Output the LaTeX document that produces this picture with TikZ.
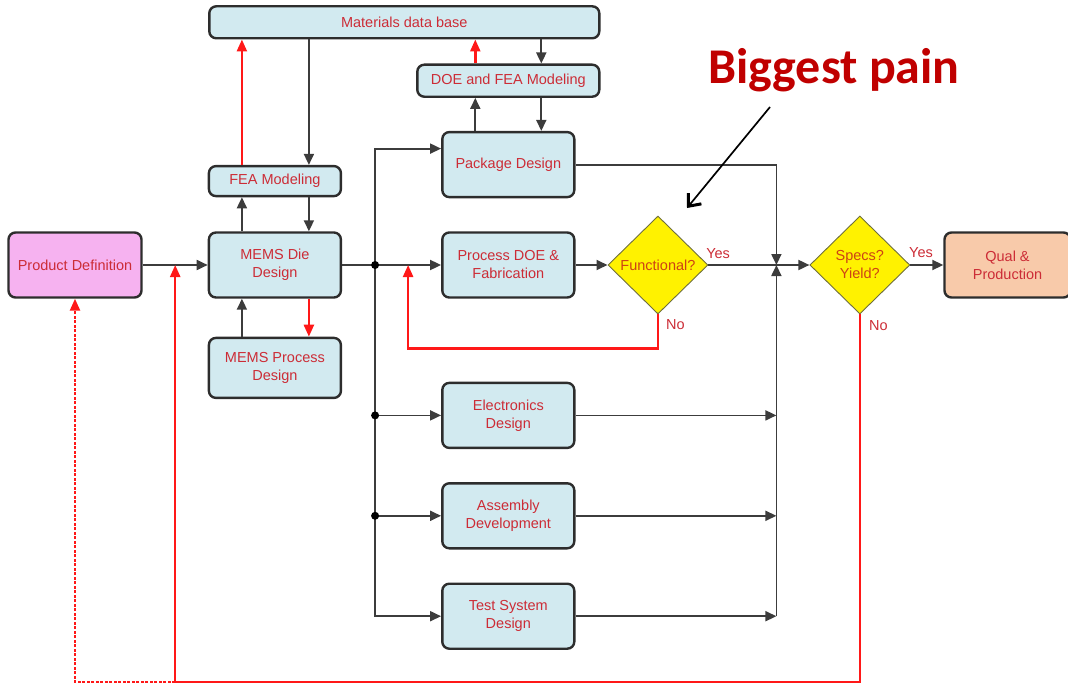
\documentclass[tikz,border=0pt]{standalone}
\usepackage{fontspec}
\setmainfont{Liberation Sans}
\setsansfont{Liberation Sans}
\newfontfamily\painfont{Carlito}
\usepackage{xcolor}
\usepackage{tikz}
\usetikzlibrary{shapes.geometric, arrows.meta, positioning, calc}
\definecolor{BoxCyan}{RGB}{210, 234, 240}
\definecolor{BoxPink}{RGB}{246, 178, 240}
\definecolor{BoxPeach}{RGB}{248, 202, 170}
\definecolor{BoxEdge}{RGB}{45, 45, 45}
\definecolor{LabelRed}{RGB}{204, 44, 54}
\definecolor{QueryRed}{RGB}{205, 66, 20}
\definecolor{QueryEdge}{RGB}{110, 110, 60}
\definecolor{LoopRed}{RGB}{255, 24, 24}
\definecolor{PainRed}{RGB}{192, 0, 0}
\definecolor{WireGray}{RGB}{60, 60, 60}

\begin{document}
\begin{tikzpicture}[
    x=1pt, y=-1pt,
    font=\fontsize{14.5}{18}\selectfont,
    block/.style={
        rectangle, draw=BoxEdge, line width=2.4pt, fill=BoxCyan,
        text=LabelRed, align=center, rounded corners=7pt,
        minimum width=132pt, minimum height=65pt, inner sep=2pt
    },
    slim/.style={block, minimum height=31pt},
    decision/.style={
        diamond, aspect=1, draw=QueryEdge, line width=0.9pt, fill=yellow,
        text=QueryRed, align=center, inner sep=0pt,
        minimum width=100pt, minimum height=98pt
    },
    arrow/.style={-{Triangle[length=11pt,width=10pt]}, line width=1.8pt, color=WireGray},
    redarrow/.style={-{Triangle[length=12pt,width=10pt]}, line width=2.4pt, color=LoopRed},
    painarrow/.style={-{Straight Barb[length=10pt,width=17pt,line width=3pt]}, line width=1.7pt, color=black},
    tag/.style={text=LabelRed, inner sep=2pt}
]
\useasboundingbox (0,0) rectangle (1068,685);

% Nodes
\node[block, fill=BoxPink, minimum width=133pt] (prod) at (75,265) {Product Definition};
\node[block, right=65pt of prod] (die) {MEMS Die\\Design};
\node[slim, above=34pt of die, minimum height=30pt] (fea) {FEA Modeling};
\node[block, below=38pt of die, minimum height=60pt] (proc) {MEMS Process\\Design};

\node[block, right=99pt of die] (pdoe) {Process DOE \&\\Fabrication};
\node[block, above=33pt of pdoe] (pkg) {Package Design};
\node[slim, above=33pt of pkg, minimum width=182pt, minimum height=32pt] (doe) {DOE and FEA Modeling};
\node[slim, above=24pt of doe.north east, anchor=south east, minimum width=390pt, minimum height=32pt] (mat) {Materials data base};
\node[block, below=83pt of pdoe] (elec) {Electronics\\Design};
\node[block, below=33pt of elec] (asm) {Assembly\\Development};
\node[block, below=33pt of asm] (test) {Test System\\Design};

\node[decision, right=32pt of pdoe] (func) {Functional?};
\node[decision, right=101pt of func] (specs) {Specs?\\Yield?};
\node[block, fill=BoxPeach, right=33pt of specs, minimum width=126pt] (qual) {Qual \&\\Production};

\node[font=\painfont\bfseries\fontsize{50}{52}\selectfont, text=PainRed, anchor=base] (pain) at (834,83) {Biggest pain};

% Helper points
\coordinate (colL) at ([xshift=-33pt]die.north);
\coordinate (colR) at ([xshift=34pt]die.north);
\coordinate (padL) at ([xshift=-33pt]pkg.north);
\coordinate (padR) at ([xshift=33pt]pkg.north);
\coordinate (bus) at ($(die.east)+(33,0)$);
\coordinate (pkgIn) at ([yshift=16pt]pkg.west);
\coordinate (redo) at ($(pdoe.west)+(-33,0)$);
\coordinate (merge) at ($(specs.west)+(-33,0)$);
\coordinate (retA) at ($(prod.east)!0.5!(die.west)$);
\coordinate (floor) at (0,682);
\coordinate (painTip) at (687,208);

% Paths
\draw[arrow] (prod) -- (die);
\draw[arrow] (colL) -- (colL |- fea.south);
\draw[arrow] (colR |- fea.south) -- (colR);
\draw[redarrow] (colL |- fea.north) -- (colL |- mat.south);
\draw[arrow] (colR |- mat.south) -- (colR |- fea.north);
\draw[arrow] (colL |- proc.north) -- (colL |- die.south);
\draw[redarrow] (colR |- die.south) -- (colR |- proc.north);

\draw[arrow] (padL) -- (padL |- doe.south);
\draw[arrow] (padR |- doe.south) -- (padR);
\draw[redarrow] (padL |- doe.north) -- (padL |- mat.south);
\draw[arrow] (padR |- mat.south) -- (padR |- doe.north);

\draw[arrow] (die) -- (pdoe);
\draw[arrow] (bus) |- (pkgIn);
\draw[arrow] (bus) |- (test.west);
\draw[arrow] (bus |- elec.west) -- (elec.west);
\draw[arrow] (bus |- asm.west) -- (asm.west);
\fill (bus) circle (4pt) (bus |- elec.west) circle (4pt) (bus |- asm.west) circle (4pt);

\draw[arrow] (pdoe) -- (func);
\draw[redarrow] (func.south) -- node[tag, pos=0, below right, xshift=5pt, yshift=-2pt]{No} ++(0,34) -| (redo);
\draw[arrow] (func.east) -- node[tag, pos=0, above right, xshift=-5pt, yshift=3pt]{Yes} (specs.west);
\draw[arrow] (pkg.east) -| (merge);
\draw[arrow] (merge |- test.east) -- (merge);
\draw[arrow] (elec.east) -- (merge |- elec.east);
\draw[arrow] (asm.east) -- (merge |- asm.east);
\draw[arrow] (test.east) -- (merge |- test.east);

\draw[arrow] (specs.east) -- node[tag, pos=0, above right, xshift=-4pt, yshift=4pt]{Yes} (qual.west);
\draw[redarrow] (specs.south) -- node[tag, pos=0, below right, xshift=6pt, yshift=-3pt]{No} (specs.south |- floor) -| (retA);
\draw[redarrow, dash pattern=on 3pt off 1.5pt] (retA |- floor) -| (prod.south);

\draw[painarrow] ([xshift=-64pt,yshift=-12pt]pain.south) -- (painTip);

\end{tikzpicture}
\end{document}
